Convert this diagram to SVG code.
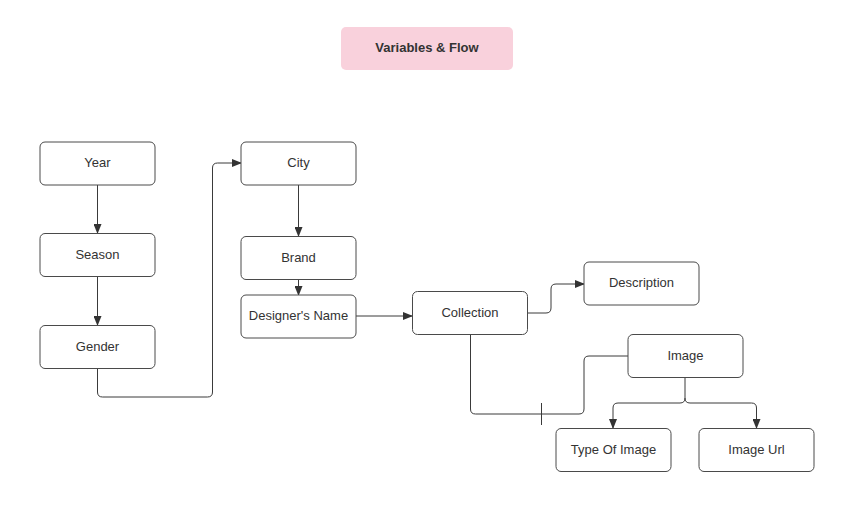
<svg xmlns="http://www.w3.org/2000/svg" width="858" height="507" viewBox="0 0 858 507">
<style>
.box{fill:#fff;stroke:#4a4a4a;stroke-width:1}
.t{font-family:"Liberation Sans",Arial,sans-serif;font-size:13px;fill:#333;text-anchor:middle;dominant-baseline:central}
.c{fill:none;stroke:#3a3a3a;stroke-width:1}
</style>
<defs>
<marker id="ah" markerWidth="10" markerHeight="8" refX="9" refY="4" orient="auto" markerUnits="userSpaceOnUse">
<path d="M0,0 L10,4 L0,8 Z" fill="#333"/>
</marker>
</defs>
<rect width="858" height="507" fill="#fff"/>
<g id="title">
<rect x="341" y="27" width="172" height="43" rx="5" fill="#f9d1dc"/>
<text x="427" y="47.5" class="t" style="font-weight:bold">Variables &amp; Flow</text>
</g>
<g id="connectors">
<path class="c" d="M97.5,185 V233" marker-end="url(#ah)"/>
<path class="c" d="M97.5,277 V325" marker-end="url(#ah)"/>
<path class="c" d="M97.5,368 V392 Q97.5,397 102.5,397 H207.5 Q212.5,397 212.5,392 V168 Q212.5,163 217.5,163 H241" marker-end="url(#ah)"/>
<path class="c" d="M298.5,185 V236" marker-end="url(#ah)"/>
<path class="c" d="M298.5,279.5 V295" marker-end="url(#ah)"/>
<path class="c" d="M356,316 H412" marker-end="url(#ah)"/>
<path class="c" d="M528,313 H546 Q551,313 551,308 V289 Q551,284 556,284 H584" marker-end="url(#ah)"/>
<path class="c" d="M470.5,334 V409 Q470.5,414 475.5,414 H579 Q584,414 584,409 V361 Q584,356 589,356 H628"/>
<path class="c" d="M541.5,403 V425"/>
<path class="c" d="M685,377 V398 Q685,403 680,403 H618 Q613,403 613,408 V428" marker-end="url(#ah)"/>
<path class="c" d="M685,398 Q685,403 690,403 H751.5 Q756.5,403 756.5,408 V428" marker-end="url(#ah)"/>
</g>
<g id="year"><rect class="box" x="40" y="142" width="115" height="43" rx="5"/><text class="t" x="97.5" y="162.5">Year</text></g>
<g id="season"><rect class="box" x="40" y="233.5" width="115" height="43" rx="5"/><text class="t" x="97.5" y="254">Season</text></g>
<g id="gender"><rect class="box" x="40" y="325.5" width="115" height="43" rx="5"/><text class="t" x="97.5" y="346">Gender</text></g>
<g id="city"><rect class="box" x="241" y="142" width="115" height="43" rx="5"/><text class="t" x="298.5" y="162.5">City</text></g>
<g id="brand"><rect class="box" x="241" y="236.5" width="115" height="43" rx="5"/><text class="t" x="298.5" y="257">Brand</text></g>
<g id="designer"><rect class="box" x="241" y="295" width="115" height="43" rx="5"/><text class="t" x="298.5" y="315.5">Designer's Name</text></g>
<g id="collection"><rect class="box" x="412.5" y="291.5" width="115" height="43" rx="5"/><text class="t" x="470" y="312">Collection</text></g>
<g id="description"><rect class="box" x="584" y="262" width="115" height="43" rx="5"/><text class="t" x="641.5" y="282.5">Description</text></g>
<g id="image"><rect class="box" x="628" y="334.5" width="115" height="43" rx="5"/><text class="t" x="685.5" y="355">Image</text></g>
<g id="typeofimage"><rect class="box" x="556" y="428.5" width="115" height="43" rx="5"/><text class="t" x="613.5" y="449">Type Of Image</text></g>
<g id="imageurl"><rect class="box" x="699" y="428.5" width="115" height="43" rx="5"/><text class="t" x="756.5" y="449">Image Url</text></g>
</svg>
